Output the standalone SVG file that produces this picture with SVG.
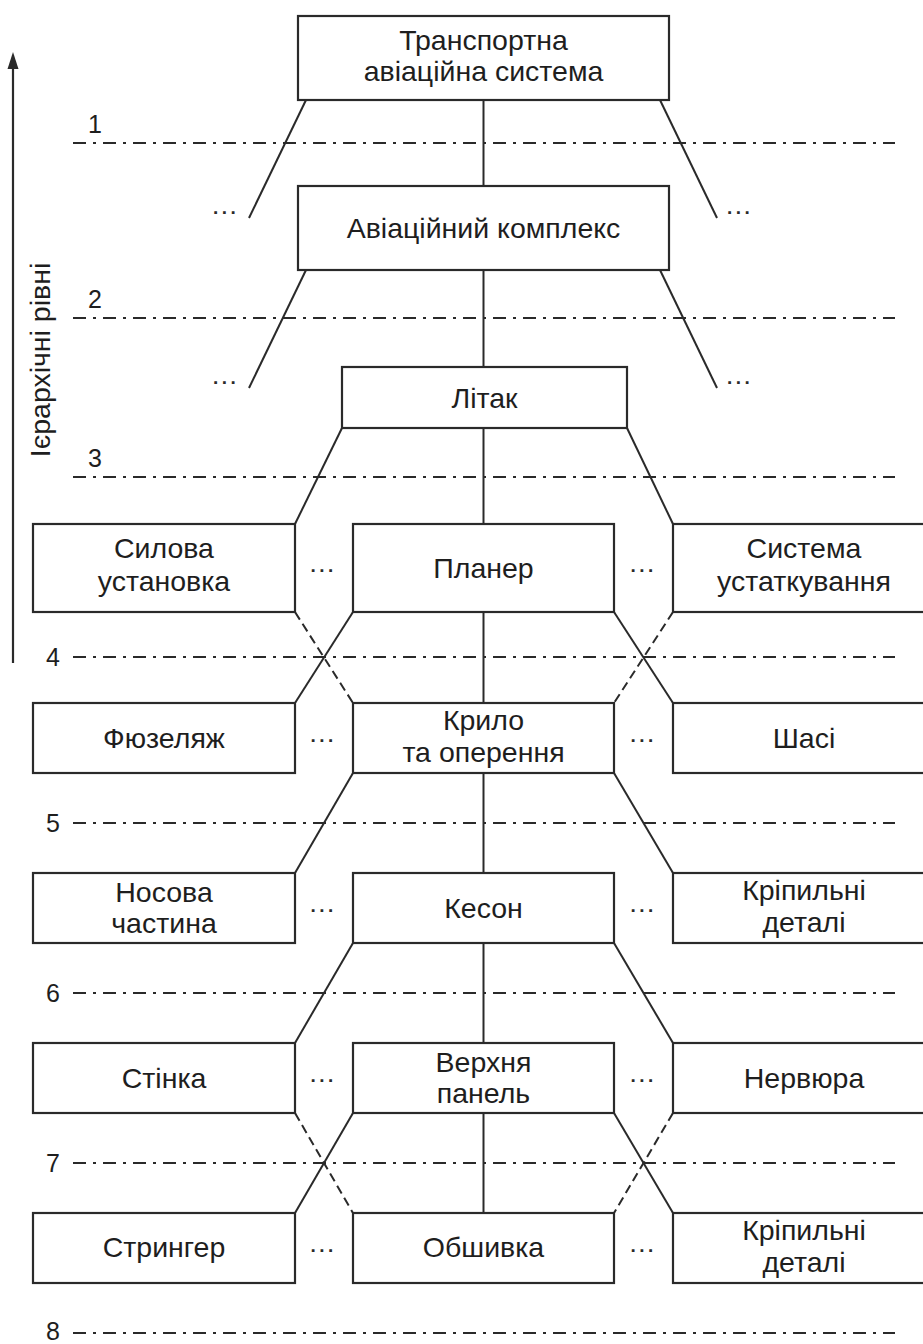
<svg xmlns="http://www.w3.org/2000/svg" width="923" height="1344" viewBox="0 0 923 1344">
<defs>
<style>
.box{fill:#fff;stroke:#2a2a2a;stroke-width:2.2}
.t{font-family:"Liberation Sans",Arial,sans-serif;font-size:28.5px;fill:#1e1e1e;text-anchor:middle}
.n{font-family:"Liberation Sans",Arial,sans-serif;font-size:25px;fill:#1e1e1e}
.d{font-family:"Liberation Sans",Arial,sans-serif;font-size:19px;font-weight:bold;fill:#2a2a2a;letter-spacing:3.5px}
.c{stroke:#2a2a2a;stroke-width:2;fill:none}
.cd{stroke:#2a2a2a;stroke-width:2;fill:none;stroke-dasharray:9 5}
.lv{stroke:#2a2a2a;stroke-width:2;fill:none;stroke-dasharray:13 7 3 7}
</style>
</defs>

<g id="axis">
<line x1="13" y1="663" x2="13" y2="68" stroke="#2a2a2a" stroke-width="2.2"/>
<path d="M13 52 L18.5 69 L7.5 69 Z" fill="#2a2a2a"/>
<text class="t" transform="translate(50 360) rotate(-90)">Ієрархічні рівні</text>
</g>

<g id="levels">
<line class="lv" x1="73" y1="143" x2="895" y2="143"/>
<line class="lv" x1="73" y1="318" x2="895" y2="318"/>
<line class="lv" x1="73" y1="477" x2="895" y2="477"/>
<line class="lv" x1="73" y1="657" x2="895" y2="657"/>
<line class="lv" x1="73" y1="823" x2="895" y2="823"/>
<line class="lv" x1="73" y1="993" x2="895" y2="993"/>
<line class="lv" x1="73" y1="1163" x2="895" y2="1163"/>
<line class="lv" x1="73" y1="1333" x2="895" y2="1333"/>
<text class="n" x="88" y="133">1</text>
<text class="n" x="88" y="308">2</text>
<text class="n" x="88" y="467">3</text>
<text class="n" x="46" y="666">4</text>
<text class="n" x="46" y="832">5</text>
<text class="n" x="46" y="1002">6</text>
<text class="n" x="46" y="1172">7</text>
<text class="n" x="46" y="1340">8</text>
</g>

<g id="connectors">
<line class="c" x1="483.5" y1="100" x2="483.5" y2="186"/>
<line class="c" x1="483.5" y1="270" x2="483.5" y2="367"/>
<line class="c" x1="483.5" y1="428" x2="483.5" y2="524"/>
<line class="c" x1="483.5" y1="612" x2="483.5" y2="703"/>
<line class="c" x1="483.5" y1="773" x2="483.5" y2="873"/>
<line class="c" x1="483.5" y1="943" x2="483.5" y2="1043"/>
<line class="c" x1="483.5" y1="1113" x2="483.5" y2="1213"/>
<line class="c" x1="306" y1="100" x2="249" y2="218"/>
<line class="c" x1="660" y1="100" x2="717" y2="218"/>
<line class="c" x1="306" y1="270" x2="249" y2="388"/>
<line class="c" x1="660" y1="270" x2="717" y2="388"/>
<line class="c" x1="342" y1="428" x2="295" y2="524"/>
<line class="c" x1="627" y1="428" x2="673" y2="524"/>
<line class="c" x1="353" y1="612" x2="295" y2="703"/>
<line class="cd" x1="295" y1="612" x2="353" y2="703"/>
<line class="c" x1="614" y1="612" x2="673" y2="703"/>
<line class="cd" x1="673" y1="612" x2="614" y2="703"/>
<line class="c" x1="353" y1="773" x2="295" y2="873"/>
<line class="c" x1="614" y1="773" x2="673" y2="873"/>
<line class="c" x1="353" y1="943" x2="295" y2="1043"/>
<line class="c" x1="614" y1="943" x2="673" y2="1043"/>
<line class="c" x1="353" y1="1113" x2="295" y2="1213"/>
<line class="cd" x1="295" y1="1113" x2="353" y2="1213"/>
<line class="c" x1="614" y1="1113" x2="673" y2="1213"/>
<line class="cd" x1="673" y1="1113" x2="614" y2="1213"/>
</g>

<g id="ellipses">
<text class="d" x="213" y="214">...</text>
<text class="d" x="727" y="214">...</text>
<text class="d" x="213" y="384">...</text>
<text class="d" x="727" y="384">...</text>
<text class="d" x="310.5" y="572">...</text>
<text class="d" x="630.5" y="572">...</text>
<text class="d" x="310.5" y="742">...</text>
<text class="d" x="630.5" y="742">...</text>
<text class="d" x="310.5" y="912">...</text>
<text class="d" x="630.5" y="912">...</text>
<text class="d" x="310.5" y="1082">...</text>
<text class="d" x="630.5" y="1082">...</text>
<text class="d" x="310.5" y="1252">...</text>
<text class="d" x="630.5" y="1252">...</text>
</g>

<g id="n-transport">
<rect class="box" x="298" y="16" width="371" height="84"/>
<text class="t" x="483.5" y="50">Транспортна</text>
<text class="t" x="483.5" y="81">авіаційна система</text>
</g>
<g id="n-complex">
<rect class="box" x="298" y="186" width="371" height="84"/>
<text class="t" x="483.5" y="238">Авіаційний комплекс</text>
</g>
<g id="n-litak">
<rect class="box" x="342" y="367" width="285" height="61"/>
<text class="t" x="484.5" y="408">Літак</text>
</g>

<g id="n-sylova">
<rect class="box" x="33" y="524" width="262" height="88"/>
<text class="t" x="164" y="558">Силова</text>
<text class="t" x="164" y="591">установка</text>
</g>
<g id="n-planer">
<rect class="box" x="353" y="524" width="261" height="88"/>
<text class="t" x="483.5" y="578">Планер</text>
</g>
<g id="n-systema">
<rect class="box" x="673" y="524" width="262" height="88"/>
<text class="t" x="804" y="558">Система</text>
<text class="t" x="804" y="591">устаткування</text>
</g>

<g id="n-fuzelazh">
<rect class="box" x="33" y="703" width="262" height="70"/>
<text class="t" x="164" y="748">Фюзеляж</text>
</g>
<g id="n-krylo">
<rect class="box" x="353" y="703" width="261" height="70"/>
<text class="t" x="483.5" y="730">Крило</text>
<text class="t" x="483.5" y="762">та оперення</text>
</g>
<g id="n-shasi">
<rect class="box" x="673" y="703" width="262" height="70"/>
<text class="t" x="804" y="748">Шасі</text>
</g>

<g id="n-nosova">
<rect class="box" x="33" y="873" width="262" height="70"/>
<text class="t" x="164" y="902">Носова</text>
<text class="t" x="164" y="933">частина</text>
</g>
<g id="n-keson">
<rect class="box" x="353" y="873" width="261" height="70"/>
<text class="t" x="483.5" y="918">Кесон</text>
</g>
<g id="n-kripylni1">
<rect class="box" x="673" y="873" width="262" height="70"/>
<text class="t" x="804" y="900">Кріпильні</text>
<text class="t" x="804" y="932">деталі</text>
</g>

<g id="n-stinka">
<rect class="box" x="33" y="1043" width="262" height="70"/>
<text class="t" x="164" y="1088">Стінка</text>
</g>
<g id="n-verkhnia">
<rect class="box" x="353" y="1043" width="261" height="70"/>
<text class="t" x="483.5" y="1072">Верхня</text>
<text class="t" x="483.5" y="1103">панель</text>
</g>
<g id="n-nervura">
<rect class="box" x="673" y="1043" width="262" height="70"/>
<text class="t" x="804" y="1088">Нервюра</text>
</g>

<g id="n-stringer">
<rect class="box" x="33" y="1213" width="262" height="70"/>
<text class="t" x="164" y="1257">Стрингер</text>
</g>
<g id="n-obshyvka">
<rect class="box" x="353" y="1213" width="261" height="70"/>
<text class="t" x="483.5" y="1257">Обшивка</text>
</g>
<g id="n-kripylni2">
<rect class="box" x="673" y="1213" width="262" height="70"/>
<text class="t" x="804" y="1240">Кріпильні</text>
<text class="t" x="804" y="1272">деталі</text>
</g>
</svg>
